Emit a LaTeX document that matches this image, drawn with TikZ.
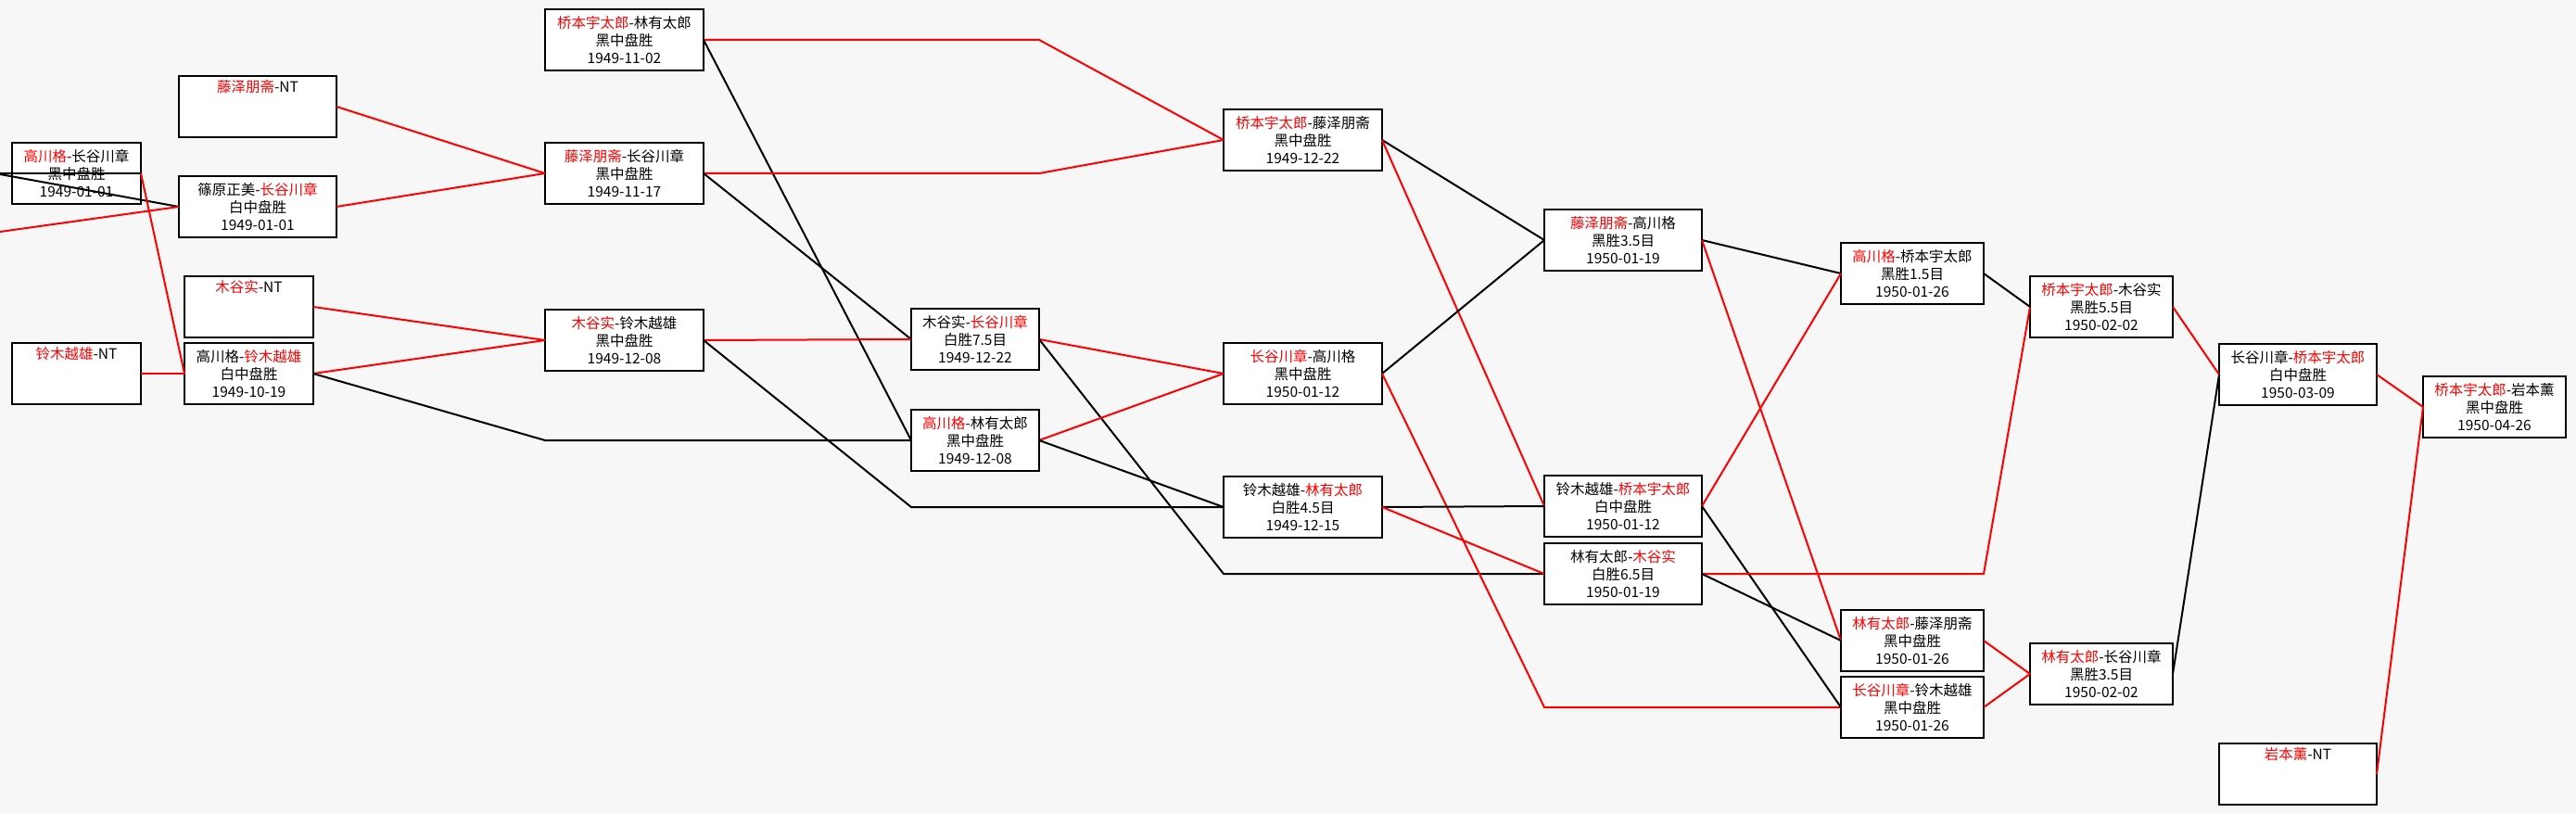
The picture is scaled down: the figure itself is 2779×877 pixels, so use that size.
\documentclass[tikz,border=0pt]{standalone}
\usepackage{fontspec}
\setmainfont{Noto Sans CJK SC}
\usetikzlibrary{positioning}
\newcommand{\redname}[1]{\textcolor{red}{#1}}
\tikzstyle{game} = [
    rectangle,
    draw=black,
    line width=2.6pt,
    fill=white,
    anchor=north west,
    outer sep=0pt,
    inner sep=0pt,
    minimum height=66pt,
    align=center,
    font=\fontsize{15.5}{19}\selectfont
]
\tikzstyle{gamenarrow} = [game, minimum width=139pt]
\tikzstyle{gamemedium} = [game, minimum width=154pt]
\tikzstyle{gamewide} = [game, minimum width=171pt]
\tikzstyle{winpath} = [draw=red, line width=2pt]
\tikzstyle{losspath} = [draw=black, line width=2pt]
\begin{document}
\begin{tikzpicture}[x=1pt, y=-1pt]
    \useasboundingbox (0,0) rectangle (2779,877);
    \fill[black!3] (0,0) rectangle (2779,877);

    \node[gamenarrow] (g1) at (13,154) {\redname{高川格}-长谷川章\\黑中盘胜\\1949-01-01};
    \node[gamenarrow] (nt1) at (13,370) {\redname{铃木越雄}-NT\\\strut\\\strut};

    \node[gamewide, minimum width=170pt] (nt2) at (193,82) {\redname{藤泽朋斋}-NT\\\strut\\\strut};
    \node[gamewide, minimum width=170pt] (g2) at (193,190) {篠原正美-\redname{长谷川章}\\白中盘胜\\1949-01-01};
    \node[gamenarrow] (nt3) at (199,298) {\redname{木谷实}-NT\\\strut\\\strut};
    \node[gamenarrow, below=6pt of nt3] (g3) {高川格-\redname{铃木越雄}\\白中盘胜\\1949-10-19};

    \node[gamewide] (g4) at (588,10) {\redname{桥本宇太郎}-林有太郎\\黑中盘胜\\1949-11-02};
    \node[gamewide] (g5) at (588,154) {\redname{藤泽朋斋}-长谷川章\\黑中盘胜\\1949-11-17};
    \node[gamewide] (g6) at (588,334) {\redname{木谷实}-铃木越雄\\黑中盘胜\\1949-12-08};

    \node[gamenarrow, minimum width=138pt] (g7) at (983,333) {木谷实-\redname{长谷川章}\\白胜7.5目\\1949-12-22};
    \node[gamenarrow, minimum width=138pt] (g8) at (983,442) {\redname{高川格}-林有太郎\\黑中盘胜\\1949-12-08};

    \node[gamewide] (g9) at (1320,118) {\redname{桥本宇太郎}-藤泽朋斋\\黑中盘胜\\1949-12-22};
    \node[gamewide] (g10) at (1320,370) {\redname{长谷川章}-高川格\\黑中盘胜\\1950-01-12};
    \node[gamewide] (g11) at (1320,514) {铃木越雄-\redname{林有太郎}\\白胜4.5目\\1949-12-15};

    \node[gamewide, minimum width=170pt] (g12) at (1666,226) {\redname{藤泽朋斋}-高川格\\黑胜3.5目\\1950-01-19};
    \node[gamewide, minimum width=170pt] (g13) at (1666,513) {铃木越雄-\redname{桥本宇太郎}\\白中盘胜\\1950-01-12};
    \node[gamewide, minimum width=170pt, below=7pt of g13] (g14) {林有太郎-\redname{木谷实}\\白胜6.5目\\1950-01-19};

    \node[gamemedium] (g15) at (1986,262) {\redname{高川格}-桥本宇太郎\\黑胜1.5目\\1950-01-26};
    \node[gamemedium] (g16) at (1986,658) {\redname{林有太郎}-藤泽朋斋\\黑中盘胜\\1950-01-26};
    \node[gamemedium, below=6pt of g16] (g17) {\redname{长谷川章}-铃木越雄\\黑中盘胜\\1950-01-26};

    \node[gamemedium] (g18) at (2190,298) {\redname{桥本宇太郎}-木谷实\\黑胜5.5目\\1950-02-02};
    \node[gamemedium] (g19) at (2190,694) {\redname{林有太郎}-长谷川章\\黑胜3.5目\\1950-02-02};

    \node[gamewide, minimum width=170pt] (g20) at (2394,371) {长谷川章-\redname{桥本宇太郎}\\白中盘胜\\1950-03-09};
    \node[gamewide, minimum width=170pt] (nt4) at (2394,802) {\redname{岩本薰}-NT\\\strut\\\strut};

    \node[gamemedium] (g21) at (2614,406) {\redname{桥本宇太郎}-岩本薰\\黑中盘胜\\1950-04-26};

    \coordinate (edgeA) at (0,187);
    \coordinate (edgeB) at (0,188);
    \coordinate (edgeC) at (0,250);

    \draw[losspath] (edgeA) -- (g1.east);
    \draw[losspath] (edgeB) -- (g2.west);
    \draw[winpath] (edgeC) -- (g2.west);
    \draw[winpath] (g1.east) -- (g3.west);
    \draw[winpath] (nt1.east) -- (g3.west);

    \draw[winpath] (nt2.east) -- (g5.west);
    \draw[winpath] (g2.east) -- (g5.west);
    \draw[winpath] (nt3.east) -- (g6.west);
    \draw[winpath] (g3.east) -- (g6.west);
    \draw[losspath] (g3.east) -- (g4.west |- g8.west) -- (g8.west);

    \draw[winpath] (g4.east) -- (g7.east |- g4.east) -- (g9.west);
    \draw[losspath] (g4.east) -- (g8.west);
    \draw[winpath] (g5.east) -- (g7.east |- g5.east) -- (g9.west);
    \draw[losspath] (g5.east) -- (g7.west);
    \draw[winpath] (g6.east) -- (g7.west);
    \draw[losspath] (g6.east) -- (g7.west |- g11.west) -- (g11.west);

    \draw[winpath] (g7.east) -- (g10.west);
    \draw[losspath] (g7.east) -- (g9.west |- g14.west) -- (g14.west);
    \draw[winpath] (g8.east) -- (g10.west);
    \draw[losspath] (g8.east) -- (g11.west);

    \draw[losspath] (g9.east) -- (g12.west);
    \draw[winpath] (g9.east) -- (g13.west);
    \draw[losspath] (g10.east) -- (g12.west);
    \draw[winpath] (g10.east) -- (g12.west |- g17.west) -- (g17.west);
    \draw[losspath] (g11.east) -- (g13.west);
    \draw[winpath] (g11.east) -- (g14.west);

    \draw[losspath] (g12.east) -- (g15.west);
    \draw[winpath] (g12.east) -- (g16.west);
    \draw[winpath] (g13.east) -- (g15.west);
    \draw[losspath] (g13.east) -- (g17.west);
    \draw[winpath] (g14.east) -- (g15.east |- g14.east) -- (g18.west);
    \draw[losspath] (g14.east) -- (g16.west);

    \draw[losspath] (g15.east) -- (g18.west);
    \draw[winpath] (g16.east) -- (g19.west);
    \draw[winpath] (g17.east) -- (g19.west);

    \draw[winpath] (g18.east) -- (g20.west);
    \draw[losspath] (g19.east) -- (g20.west);

    \draw[winpath] (g20.east) -- (g21.west);
    \draw[winpath] (nt4.east) -- (g21.west);
\end{tikzpicture}
\end{document}
